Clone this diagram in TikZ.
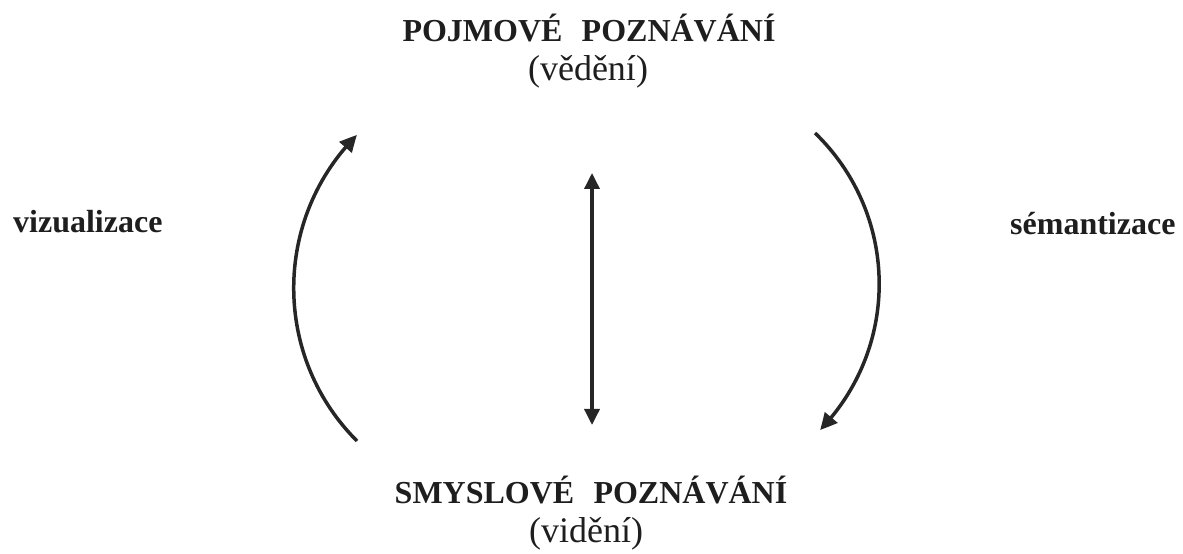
\documentclass[tikz,border=0pt]{standalone}
\usepackage{fontspec}
\setmainfont{Liberation Serif}
\usetikzlibrary{arrows.meta,bending}
\definecolor{ink}{HTML}{1E1E1E}
\definecolor{lineink}{HTML}{262626}
\tikzset{
  title/.style={anchor=base, inner sep=0pt, text=ink, font=\fontsize{32}{38}\selectfont\bfseries},
  sub/.style={anchor=base, inner sep=0pt, text=ink, font=\fontsize{36}{42}\selectfont},
  side/.style={anchor=base west, inner sep=0pt, text=ink, font=\fontsize{32}{38}\selectfont\bfseries},
  conn/.style={draw=lineink, line width=3.5pt, -{Triangle[length=17pt,width=16pt,bend]}},
  dconn/.style={draw=lineink, line width=3.5pt, {Triangle[length=16pt,width=15pt]}-{Triangle[length=16pt,width=15pt]}}
}
\begin{document}
\begin{tikzpicture}[x=1pt,y=1pt]
\useasboundingbox (0,0) rectangle (1183,554);
\node[title] (top) at (589,512) {POJMOVÉ\hspace{0.6em}POZNÁVÁNÍ};
\node[sub] (topsub) at (588,473) {(vědění)};
\node[title] (bot) at (591,50) {SMYSLOVÉ\hspace{0.6em}POZNÁVÁNÍ};
\node[sub] (botsub) at (586,11) {(vidění)};
\node[side] (viz) at (13,321) {vizualizace};
\node[side] (sem) at (1010,319) {sémantizace};
\coordinate (l1) at (357,113);
\coordinate (l2) at (357,419);
\coordinate (r1) at (815,421);
\coordinate (r2) at (820,124);
\coordinate (v1) at (592,381);
\coordinate (v2) at (592,129);
\draw[conn] (l1) to[bend left=45] (l2);
\draw[conn] (r1) to[bend left=45] (r2);
\draw[dconn] (v2) -- (v1);
\end{tikzpicture}
\end{document}
